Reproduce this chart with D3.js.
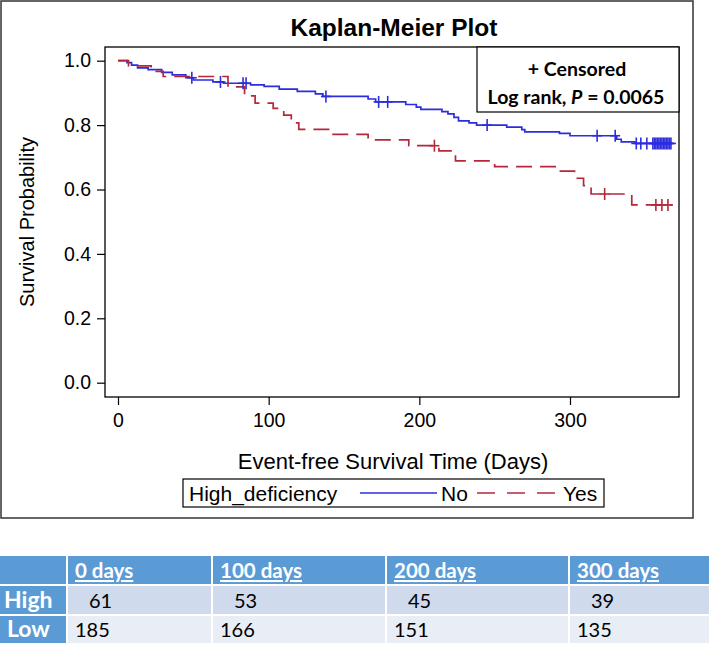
<!DOCTYPE html>
<html>
<head>
<meta charset="utf-8">
<script src="https://cdn.jsdelivr.net/npm/d3@7/dist/d3.min.js"></script>
<style>
  html, body { margin: 0; padding: 0; background: #fff; }
  svg { display: block; }
</style>
</head>
<body>
<svg id="chart" width="709" height="645"></svg>
<script>
// ---------------- DATA ----------------
// Step changes: [time (days), survival probability after the step]
const noSteps = [
  [0, 1.0], [6, 0.994], [9, 0.986], [13, 0.978], [20, 0.972], [29, 0.964],
  [36, 0.956], [45, 0.947], [50, 0.940], [63, 0.934], [70, 0.930], [88, 0.925],
  [97, 0.920], [107, 0.912], [119, 0.905], [131, 0.897], [136, 0.889],
  [166, 0.881], [171, 0.872], [191, 0.864], [198, 0.856], [201, 0.849],
  [215, 0.842], [219, 0.835], [223, 0.824], [226, 0.813], [233, 0.807],
  [238, 0.800], [258, 0.794], [268, 0.786], [270, 0.779], [293, 0.774],
  [300, 0.767], [331, 0.756], [334, 0.748], [343, 0.743]
];
const noEnd = 368;
const noCensored = [49, 68, 83, 85, 138, 173, 179, 245, 318, 330, 344, 347, 351,
  355, 356, 357, 358, 359, 360, 361, 362, 363, 364, 365, 366, 367];

const yesSteps = [
  [0, 1.0], [7, 0.984], [22, 0.967], [30, 0.951], [73, 0.919], [84, 0.891],
  [91, 0.868], [103, 0.852], [110, 0.831], [115, 0.807], [120, 0.787],
  [142, 0.771], [166, 0.754], [193, 0.736], [213, 0.720], [224, 0.689],
  [250, 0.671], [293, 0.657], [303, 0.635], [309, 0.612], [314, 0.586],
  [341, 0.552]
];
const yesEnd = 368;
const yesCensored = [210, 323, 357, 361, 365];

const xTicks = [0, 100, 200, 300];
const yTicks = [0.0, 0.2, 0.4, 0.6, 0.8, 1.0];

const tableCols = ["0 days", "100 days", "200 days", "300 days"];
const tableRowLabels = ["High", "Low"];
const highAtRisk = ["61", "53", "45", "39"];
const lowAtRisk = ["185", "166", "151", "135"];

// ---------------- LAYOUT ----------------
const svg = d3.select("#chart");
const plot = { left: 105, right: 679, top: 47, bottom: 397 };
const x = d3.scaleLinear().domain([0, 300]).range([118, 570]);
const y = d3.scaleLinear().domain([0, 1]).range([382.7, 60.7]);

const blue = "#2D2DDE";
const red = "#B4283A";
const axisFont = "'Liberation Sans', Arial, sans-serif";
const calibriLike = "Lato, 'Open Sans', sans-serif";

svg.append("rect").attr("width", 709).attr("height", 645).attr("fill", "#fff");

// outer frame
svg.append("rect")
  .attr("x", 1).attr("y", 1).attr("width", 692).attr("height", 517)
  .attr("fill", "none").attr("stroke", "#333").attr("stroke-width", 1.5);

// title
svg.append("text")
  .attr("x", 394).attr("y", 36)
  .attr("text-anchor", "middle")
  .attr("font-family", axisFont).attr("font-weight", "bold")
  .attr("font-size", 24.5).attr("fill", "#000")
  .text("Kaplan-Meier Plot");

// clip
svg.append("clipPath").attr("id", "clip")
  .append("rect").attr("x", plot.left).attr("y", plot.top)
  .attr("width", plot.right - plot.left).attr("height", plot.bottom - plot.top);

// axes
const xAxis = d3.axisBottom(x).tickValues(xTicks).tickSize(8).tickPadding(8)
  .tickFormat(d3.format("d"));
const gx = svg.append("g").attr("transform", `translate(0,${plot.bottom})`).call(xAxis);
gx.select(".domain").remove();
gx.selectAll("line").attr("stroke", "#000").attr("stroke-width", 1.2);
gx.selectAll("text").attr("font-family", axisFont).attr("font-size", 19.5).attr("fill", "#000");

const yAxis = d3.axisLeft(y).tickValues(yTicks).tickSize(8).tickPadding(6)
  .tickFormat(d3.format(".1f"));
const gy = svg.append("g").attr("transform", `translate(${plot.left},0)`).call(yAxis);
gy.select(".domain").remove();
gy.selectAll("line").attr("stroke", "#000").attr("stroke-width", 1.2);
gy.selectAll("text").attr("font-family", axisFont).attr("font-size", 19.5).attr("fill", "#000");

// axis titles
svg.append("text")
  .attr("x", 393).attr("y", 469).attr("text-anchor", "middle")
  .attr("font-family", axisFont).attr("font-size", 22).attr("fill", "#000")
  .text("Event-free Survival Time (Days)");
svg.append("text")
  .attr("transform", `translate(34,${(plot.top + plot.bottom) / 2}) rotate(-90)`)
  .attr("text-anchor", "middle")
  .attr("font-family", axisFont).attr("font-size", 20).attr("fill", "#000")
  .text("Survival Probability");

// curves
const stepLine = d3.line().x(d => x(d[0])).y(d => y(d[1])).curve(d3.curveStepAfter);
function withEnd(steps, end) { return steps.concat([[end, steps[steps.length - 1][1]]]); }
function survAt(steps, t) {
  let s = steps[0][1];
  for (const st of steps) { if (st[0] <= t) s = st[1]; }
  return s;
}
const gCurves = svg.append("g").attr("clip-path", "url(#clip)");

gCurves.append("path").datum(withEnd(noSteps, noEnd))
  .attr("d", stepLine).attr("fill", "none")
  .attr("stroke", blue).attr("stroke-width", 1.7);
gCurves.append("path").datum(withEnd(yesSteps, yesEnd))
  .attr("d", stepLine).attr("fill", "none")
  .attr("stroke", red).attr("stroke-width", 1.7).attr("stroke-dasharray", "16,8");

function drawCensors(times, steps, color) {
  const g = gCurves.append("g").attr("stroke", color).attr("stroke-width", 1.6);
  times.forEach(t => {
    const cx = x(t), cy = y(survAt(steps, t));
    g.append("line").attr("x1", cx).attr("x2", cx).attr("y1", cy - 6).attr("y2", cy + 6);
    g.append("line").attr("x1", cx - 5).attr("x2", cx + 5).attr("y1", cy).attr("y2", cy);
  });
}
drawCensors(noCensored, noSteps, blue);
drawCensors(yesCensored, yesSteps, red);

// plot frame
svg.append("rect")
  .attr("x", plot.left).attr("y", plot.top)
  .attr("width", plot.right - plot.left).attr("height", plot.bottom - plot.top)
  .attr("fill", "none").attr("stroke", "#000").attr("stroke-width", 1.3);

// inset box
svg.append("rect")
  .attr("x", 477).attr("y", plot.top).attr("width", plot.right - 477).attr("height", 65)
  .attr("fill", "#fff").attr("stroke", "#000").attr("stroke-width", 1.2);
svg.append("text")
  .attr("x", 577).attr("y", 76).attr("text-anchor", "middle")
  .attr("font-family", calibriLike).attr("font-weight", "bold").attr("font-size", 19.5)
  .attr("fill", "#000").text("+ Censored");
const lr = svg.append("text")
  .attr("x", 576).attr("y", 104).attr("text-anchor", "middle")
  .attr("font-family", calibriLike).attr("font-weight", "bold").attr("font-size", 19.5)
  .attr("fill", "#000");
lr.append("tspan").text("Log rank, ");
lr.append("tspan").attr("font-style", "italic").text("P");
lr.append("tspan").text(" = 0.0065");

// legend
svg.append("rect")
  .attr("x", 183).attr("y", 479).attr("width", 421).attr("height", 28)
  .attr("fill", "#fff").attr("stroke", "#000").attr("stroke-width", 1.2);
svg.append("text").attr("x", 189).attr("y", 501)
  .attr("font-family", axisFont).attr("font-size", 21).attr("fill", "#000")
  .text("High_deficiency");
svg.append("line").attr("x1", 360).attr("x2", 437).attr("y1", 493).attr("y2", 493)
  .attr("stroke", blue).attr("stroke-width", 1.7);
svg.append("text").attr("x", 441).attr("y", 501)
  .attr("font-family", axisFont).attr("font-size", 21).attr("fill", "#000").text("No");
svg.append("line").attr("x1", 477).attr("x2", 556).attr("y1", 493).attr("y2", 493)
  .attr("stroke", red).attr("stroke-width", 1.7).attr("stroke-dasharray", "18,12");
svg.append("text").attr("x", 563).attr("y", 501)
  .attr("font-family", axisFont).attr("font-size", 21).attr("fill", "#000").text("Yes");

// ---------------- TABLE ----------------
const colEdges = [0, 68, 213, 387, 570, 709];
const rowEdges = [[556, 584], [586, 614], [616, 643]];
const headBlue = "#5B9BD5";
const rowFills = ["#CFDAED", "#E8EDF6"];

// header row
for (let c = 0; c < colEdges.length - 1; c++) {
  svg.append("rect")
    .attr("x", colEdges[c]).attr("y", rowEdges[0][0])
    .attr("width", colEdges[c + 1] - colEdges[c] - (c < colEdges.length - 2 ? 2 : 0))
    .attr("height", rowEdges[0][1] - rowEdges[0][0])
    .attr("fill", headBlue);
}
tableCols.forEach((label, i) => {
  svg.append("text")
    .attr("x", colEdges[i + 1] + 7).attr("y", 578)
    .attr("font-family", calibriLike).attr("font-weight", "bold").attr("font-size", 20.5)
    .attr("fill", "#fff").attr("text-decoration", "underline")
    .text(label);
});

const bodyRows = [highAtRisk, lowAtRisk];
bodyRows.forEach((vals, r) => {
  const [y0, y1] = rowEdges[r + 1];
  // label cell
  svg.append("rect").attr("x", 0).attr("y", y0).attr("width", 66).attr("height", y1 - y0)
    .attr("fill", headBlue);
  svg.append("text").attr("x", r === 0 ? 4 : 7).attr("y", y1 - 6)
    .attr("font-family", calibriLike).attr("font-weight", "bold").attr("font-size", 23)
    .attr("fill", "#fff").text(tableRowLabels[r]);
  for (let c = 1; c < colEdges.length - 1; c++) {
    svg.append("rect")
      .attr("x", colEdges[c]).attr("y", y0)
      .attr("width", colEdges[c + 1] - colEdges[c] - (c < colEdges.length - 2 ? 2 : 0))
      .attr("height", y1 - y0).attr("fill", rowFills[r]);
  }
  vals.forEach((v, i) => {
    svg.append("text")
      .attr("x", colEdges[i + 1] + 7 + (r === 0 ? 14 : 0)).attr("y", y1 - 6)
      .attr("font-family", calibriLike).attr("font-size", 20)
      .attr("fill", "#000").text(v);
  });
});
</script>
</body>
</html>
